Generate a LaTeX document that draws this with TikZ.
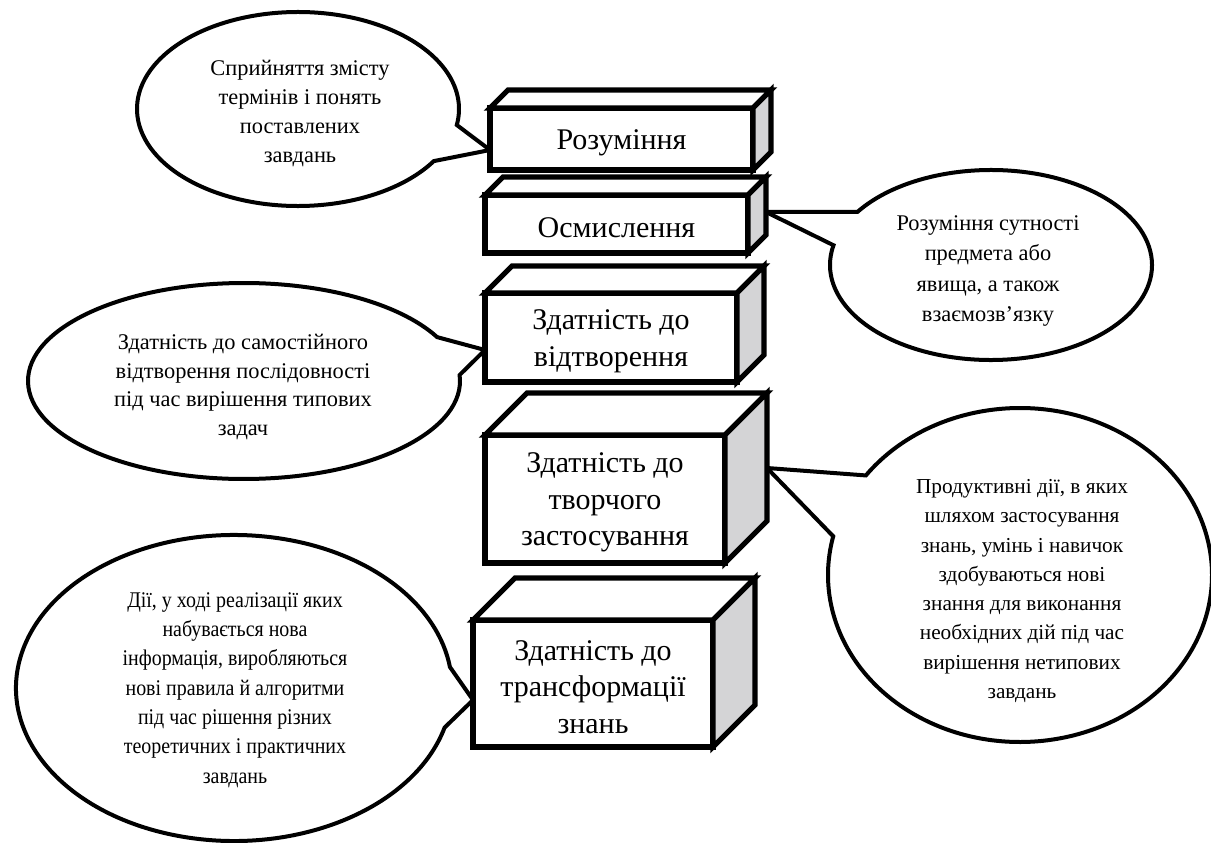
\documentclass[tikz,border=0pt]{standalone}
\usepackage{fontspec}
\setmainfont{Liberation Serif}
\usetikzlibrary{calc}
\definecolor{sidegray}{RGB}{212,212,214}
\pgfdeclarelayer{bg}
\pgfsetlayers{bg,main}
\tikzset{
  boxfront/.style={draw, line width=5.2pt, fill=white, inner sep=0pt, outer sep=0pt,
    align=center, font=\fontsize{30}{36.5}\selectfont},
  boxface/.style={draw, line width=5.2pt, line join=miter},
  bubble/.style={draw, line width=4pt, fill=white, line join=miter, miter limit=4},
  bubbletext/.style={align=center, inner sep=0pt, font=\fontsize{22.4}{28.7}\selectfont},
}
\newcommand{\topstrut}{\rule{0pt}{27pt}}
\begin{document}
\begin{tikzpicture}[x=1pt,y=-1pt]
\useasboundingbox (0,0) rectangle (1211,843);
\begin{pgfonlayer}{bg}
\fill[white] (0,0) rectangle (1211,843);
\end{pgfonlayer}

% ---- boxes ----
\node[boxfront, minimum width=263pt, minimum height=62pt] (b1) at (621.5,139) {\topstrut Розуміння};
\filldraw[boxface, fill=white] (b1.north west) -- ++(18,-18) -- ($(b1.north east)+(18,-18)$) -- (b1.north east) -- cycle;
\filldraw[boxface, fill=sidegray] (b1.north east) -- ++(18,-18) -- ($(b1.south east)+(18,-18)$) -- (b1.south east) -- cycle;

\node[boxfront, minimum width=263pt, minimum height=58pt] (b2) at (616.5,224) {\topstrut Осмислення};
\filldraw[boxface, fill=white] (b2.north west) -- ++(18,-18) -- ($(b2.north east)+(18,-18)$) -- (b2.north east) -- cycle;
\filldraw[boxface, fill=sidegray] (b2.north east) -- ++(18,-18) -- ($(b2.south east)+(18,-18)$) -- (b2.south east) -- cycle;

\node[boxfront, minimum width=252pt, minimum height=89pt] (b3) at (611,337.5) {\topstrut Здатність до\\відтворення};
\filldraw[boxface, fill=white] (b3.north west) -- ++(27,-27) -- ($(b3.north east)+(27,-27)$) -- (b3.north east) -- cycle;
\filldraw[boxface, fill=sidegray] (b3.north east) -- ++(27,-27) -- ($(b3.south east)+(27,-27)$) -- (b3.south east) -- cycle;

\node[boxfront, minimum width=240pt, minimum height=128pt] (b4) at (605,499) {\topstrut Здатність до\\творчого\\застосування};
\filldraw[boxface, fill=white] (b4.north west) -- ++(42,-42) -- ($(b4.north east)+(42,-42)$) -- (b4.north east) -- cycle;
\filldraw[boxface, fill=sidegray] (b4.north east) -- ++(42,-42) -- ($(b4.south east)+(42,-42)$) -- (b4.south east) -- cycle;

\node[boxfront, minimum width=240pt, minimum height=127pt] (b5) at (593,683.5) {\topstrut Здатність до\\трансформації\\знань};
\filldraw[boxface, fill=white] (b5.north west) -- ++(42,-42) -- ($(b5.north east)+(42,-42)$) -- (b5.north east) -- cycle;
\filldraw[boxface, fill=sidegray] (b5.north east) -- ++(42,-42) -- ($(b5.south east)+(42,-42)$) -- (b5.south east) -- cycle;

% ---- tail tips ----
\coordinate (t1) at ([yshift=-11pt]b1.west);
\coordinate (t2) at ([xshift=18pt,yshift=12pt]b2.east);
\coordinate (t3) at ([yshift=-12.5pt]b3.west);
\coordinate (t4) at ([xshift=42pt,yshift=31pt]b4.east);
\coordinate (t5) at ([yshift=-16.5pt]b5.west);

% ---- bubble centres ----
\coordinate (c1) at (298,109);
\coordinate (c2) at (991,265);
\coordinate (c3) at (244,381);
\coordinate (c4) at (1020,575);
\coordinate (c5) at (234,688);
\coordinate (p5) at (235,690);

\begin{pgfonlayer}{bg}
\draw[bubble] (t1) -- ([shift={(32.5:161 and 97)}]c1)
  arc[start angle=32.5, end angle=369.5, x radius=161, y radius=97] -- cycle;
\draw[bubble] (t2) -- ([shift={(214:161 and 95)}]c2)
  arc[start angle=214, end angle=552, x radius=161, y radius=95] -- cycle;
\draw[bubble] (t3) -- ([shift={(-3.5:216 and 98)}]c3)
  arc[start angle=-3.5, end angle=333.4, x radius=216, y radius=98] -- cycle;
\draw[bubble] (t4) -- ([shift={(216.6:192 and 167)}]c4)
  arc[start angle=216.6, end angle=553.4, x radius=192, y radius=167] -- cycle;
\draw[bubble] (t5) -- ([shift={(15:218 and 153)}]c5)
  arc[start angle=15, end angle=352.1, x radius=218, y radius=153] -- cycle;
\end{pgfonlayer}

% ---- bubble texts ----
\node[bubbletext] (e1) at (300,113.5) {Сприйняття змісту\\термінів і понять\\поставлених\\завдань};
\node[bubbletext, font=\fontsize{22.4}{30.2}\selectfont] (e2) at (988,271) {Розуміння сутності\\предмета або\\явища, а також\\взаємозв’язку};
\node[bubbletext] (e3) at (243,387) {Здатність до самостійного\\відтворення послідовності\\під час вирішення типових\\задач};
\node[bubbletext, font=\fontsize{21.3}{29.3}\selectfont] (e4) at (1022,591) {Продуктивні дії, в яких\\шляхом застосування\\знань, умінь і навичок\\здобуваються нові\\знання для виконання\\необхідних дій під час\\вирішення нетипових\\завдань};
\node[bubbletext, font=\fontsize{22.4}{29.3}\selectfont, xscale=0.89, transform shape] (e5) at (p5) {Дії, у ході реалізації яких\\набувається нова\\інформація, виробляються\\нові правила й алгоритми\\під час рішення різних\\теоретичних і практичних\\завдань};
\end{tikzpicture}
\end{document}
